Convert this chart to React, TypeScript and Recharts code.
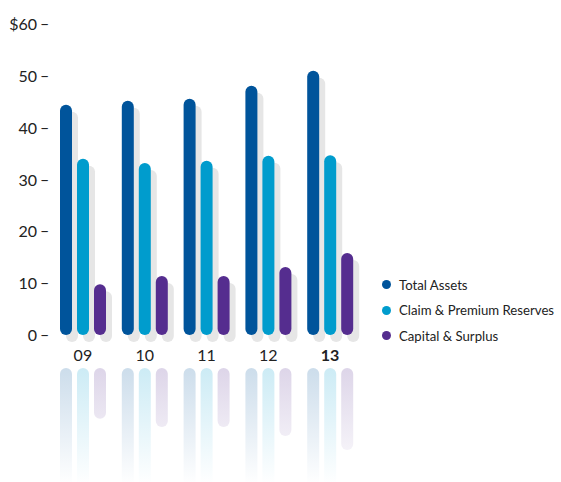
import React from "react";
import { BarChart, Bar, XAxis, YAxis } from "recharts";

// Balance figures per year, in millions of dollars
const years = ["09", "10", "11", "12", "13"];
const totalAssets = [44.4, 45.2, 45.6, 48.1, 51.0];
const claimReserves = [34.0, 33.2, 33.6, 34.6, 34.7];
const capitalSurplus = [9.8, 11.4, 11.4, 13.1, 15.8];
const yTicks = [0, 10, 20, 30, 40, 50, 60];

const series = [
  { key: "total", name: "Total Assets", color: "#00549b", values: totalAssets },
  { key: "claim", name: "Claim & Premium Reserves", color: "#009ccd", values: claimReserves },
  { key: "capital", name: "Capital & Surplus", color: "#552d8f", values: capitalSurplus },
];

const data = years.map((year, i) => ({
  year,
  total: totalAssets[i],
  claim: claimReserves[i],
  capital: capitalSurplus[i],
}));

const FONT = "Lato, 'DejaVu Sans', sans-serif";
const TEXT = "#222";
const REFLECT_GAP = 33;

// pill bar with a grey drop shadow and a faded mirror image under the axis
const pillShape = (key: string) => (props: any) => {
  const { x, y, width, height, fill } = props;
  if (!height || height <= 0) return <g />;
  const r = width / 2;
  const base = y + height;
  return (
    <g>
      <rect x={x + 6} y={y + 7} width={width} height={height} rx={r} fill="#e6e6e6" />
      <rect
        x={x}
        y={base + REFLECT_GAP}
        width={width}
        height={height}
        rx={r}
        fill={`url(#fade-${key})`}
      />
      <rect x={x} y={y} width={width} height={height} rx={r} fill={fill} />
    </g>
  );
};

// value label plus a short dash standing in for the tick mark
const YTick = (props: any) => {
  const { y, payload } = props;
  const label = (payload.value === 60 ? "$" : "") + payload.value;
  return (
    <g fill={TEXT} fontSize={16} fontFamily={FONT}>
      <text x={37} y={y} dy={6} textAnchor="end">
        {label}
      </text>
      <text x={40} y={y} dy={5} textAnchor="start">
        –
      </text>
    </g>
  );
};

const XTick = (props: any) => {
  const { x, payload } = props;
  const last = payload.value === years[years.length - 1];
  return (
    <text
      x={x}
      y={361}
      textAnchor="middle"
      fill={TEXT}
      fontSize={16}
      fontWeight={last ? 700 : 400}
      fontFamily={FONT}
    >
      {payload.value}
    </text>
  );
};

const ChartLegend = () => (
  <div
    style={{
      position: "absolute",
      left: 382,
      top: 272,
      fontFamily: FONT,
      fontSize: 13.2,
      color: TEXT,
      whiteSpace: "nowrap",
    }}
  >
    {series.map((s) => (
      <div key={s.key} style={{ display: "flex", alignItems: "center", height: 25.5 }}>
        <span
          style={{
            width: 9,
            height: 9,
            borderRadius: "50%",
            background: s.color,
            marginRight: 8,
            flex: "none",
          }}
        />
        <span>{s.name}</span>
      </div>
    ))}
  </div>
);

export default function App() {
  return (
    <div style={{ position: "absolute", left: 0, top: 0, width: 561, height: 482, background: "#fff" }}>
      <BarChart
        width={561}
        height={482}
        data={data}
        margin={{ top: 24, right: 200, bottom: 117, left: 0 }}
        barSize={12}
        barGap={5}
      >
        <defs>
          {series.map((s) => (
            <linearGradient
              key={s.key}
              id={`fade-${s.key}`}
              gradientUnits="userSpaceOnUse"
              x1={0}
              y1={368}
              x2={0}
              y2={485}
            >
              <stop offset="0%" stopColor={s.color} stopOpacity={0.2} />
              <stop offset="100%" stopColor={s.color} stopOpacity={0} />
            </linearGradient>
          ))}
        </defs>
        <XAxis
          dataKey="year"
          height={30}
          axisLine={false}
          tickLine={false}
          tick={<XTick />}
          interval={0}
        />
        <YAxis
          width={52}
          domain={[0, 60]}
          ticks={yTicks}
          axisLine={false}
          tickLine={false}
          tick={<YTick />}
          interval={0}
        />
        {series.map((s) => (
          <Bar
            key={s.key}
            dataKey={s.key}
            name={s.name}
            fill={s.color}
            shape={pillShape(s.key)}
            isAnimationActive={false}
          />
        ))}
      </BarChart>
      <ChartLegend />
    </div>
  );
}
